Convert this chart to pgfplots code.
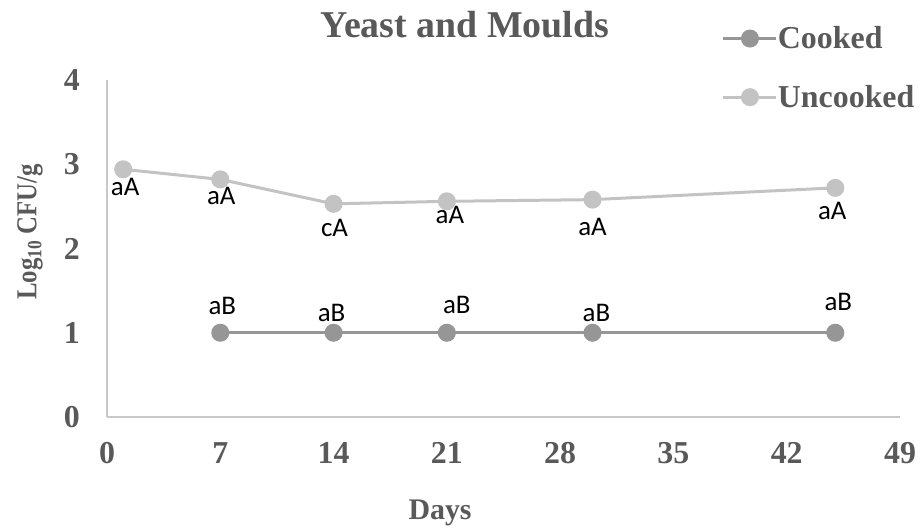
\documentclass[border=0pt]{standalone}
\usepackage{pgfplots}
\pgfplotsset{compat=1.18}
\usepackage{pgfplotstable}
\usepackage{fontspec}
\setmainfont{Liberation Serif}
\newfontfamily\lab{Carlito}
\definecolor{textgray}{RGB}{89,89,89}
\definecolor{cookedc}{RGB}{150,150,150}
\definecolor{uncookedc}{RGB}{195,195,195}
\definecolor{axisc}{RGB}{200,200,200}

\pgfplotstableread{
x y lab dx dy
1 2.94 aA 2 -18
7 2.82 aA 1 -17
14 2.53 cA 1 -24
21 2.56 aA 3 -14
30 2.58 aA 0 -27
45 2.72 aA -3 -23
}\uncooked

\pgfplotstableread{
x y lab dx dy
7 1 aB 2 27
14 1 aB -2 20
21 1 aB 10 28
30 1 aB 4 20
45 1 aB 3 31
}\cooked

\begin{document}
\begin{tikzpicture}
\useasboundingbox (0,0) rectangle (921bp,529bp);
\begin{axis}[
  at={(107bp,112bp)}, anchor=south west,
  scale only axis, width=793bp, height=337bp,
  xmin=0, xmax=49, ymin=0, ymax=4,
  xtick={0,7,...,49}, ytick={0,1,2,3,4},
  axis lines=left,
  axis line style={draw=axisc, line width=1.5bp, -},
  major tick length=0pt,
  clip=false,
  /pgf/number format/assume math mode=true,
  tick label style={font=\fontsize{32}{32}\selectfont\bfseries, text=textgray, inner sep=0pt},
  yticklabel style={xshift=-27bp},
  xticklabel style={yshift=-25bp},
  title={Yeast and Moulds},
  title style={at={(axis description cs:0.4515,1.107)}, anchor=base, font=\fontsize{38}{38}\selectfont\bfseries, text=textgray, inner sep=0pt},
  xlabel={Days},
  xlabel style={at={(axis description cs:0.42,-0.3056)}, anchor=base, font=\fontsize{30}{30}\selectfont\bfseries, text=textgray, inner sep=0pt},
  ylabel={\scalebox{0.86}[1]{Log\textsubscript{10} CFU/g}},
  ylabel style={at={(axis description cs:-0.0971,0.549)}, anchor=center, rotate=0, font=\fontsize{29}{29}\selectfont\bfseries, text=textgray, inner sep=0pt},
  legend style={at={(axis description cs:0.7755,1.158)}, anchor=north west, draw=none, fill=none, inner sep=0pt, outer sep=0pt,
    font=\fontsize{32}{32}\selectfont\bfseries, text=textgray, row sep=35bp,
    nodes={inner sep=0pt}, /tikz/every even column/.append style={column sep=5bp}},
  legend cell align=left,
  legend image code/.code={\draw[mark repeat=2,mark phase=2,#1] plot coordinates {(0bp,0bp) (26.5bp,0bp) (53bp,0bp)};},
  nodes near coords style={font=\lab\fontsize{27}{27}\selectfont, text=black, anchor=center, inner sep=0pt},
]
\addplot[color=cookedc, line width=3bp, mark=*, mark size=7.5bp, mark options={solid, fill=cookedc, draw=cookedc}]
  table[x=x, y=y]{\cooked};
\addplot[color=uncookedc, line width=3bp, mark=*, mark size=7.5bp, mark options={solid, fill=uncookedc, draw=uncookedc}]
  table[x=x, y=y]{\uncooked};
\legend{Cooked, Uncooked}
\addplot[forget plot, draw=none, mark=none,
  nodes near coords, point meta=explicit symbolic,
  visualization depends on={\thisrow{dx}\as\dx},
  visualization depends on={\thisrow{dy}\as\dy},
  every node near coord/.append style={xshift=\dx, yshift=\dy}]
  table[x=x, y=y, meta=lab]{\cooked};
\addplot[forget plot, draw=none, mark=none,
  nodes near coords, point meta=explicit symbolic,
  visualization depends on={\thisrow{dx}\as\dx},
  visualization depends on={\thisrow{dy}\as\dy},
  every node near coord/.append style={xshift=\dx, yshift=\dy}]
  table[x=x, y=y, meta=lab]{\uncooked};
\end{axis}
\end{tikzpicture}
\end{document}
